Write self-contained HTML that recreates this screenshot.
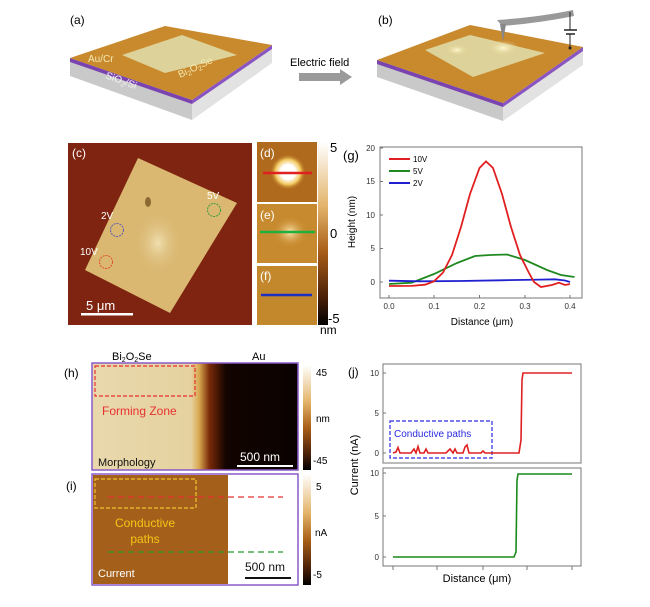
<!DOCTYPE html>
<html><head><meta charset="utf-8"><style>
body{margin:0;background:#fff}
svg text{font-family:"Liberation Sans",sans-serif}
</style></head><body>
<svg width="650" height="602" viewBox="0 0 650 602" xmlns="http://www.w3.org/2000/svg">
<defs>
<radialGradient id="bump" cx="50%" cy="50%" r="50%"><stop offset="0" stop-color="#fff8d0"/><stop offset="1" stop-color="#e2d08e" stop-opacity="0"/></radialGradient>
<radialGradient id="blob" cx="50%" cy="50%" r="50%"><stop offset="0" stop-color="#f0dfb0"/><stop offset="1" stop-color="#d9b872" stop-opacity="0"/></radialGradient>
<radialGradient id="dspot" cx="50%" cy="50%" r="50%"><stop offset="0.4" stop-color="#fff"/><stop offset="0.7" stop-color="#f2c960"/><stop offset="1" stop-color="#b06a18" stop-opacity="0"/></radialGradient>
<radialGradient id="espot" cx="50%" cy="50%" r="50%"><stop offset="0" stop-color="#fbe7b0"/><stop offset="1" stop-color="#c88a2e" stop-opacity="0"/></radialGradient>
<linearGradient id="cb1" x1="0" y1="0" x2="0" y2="1"><stop offset="0" stop-color="#fff"/><stop offset="0.35" stop-color="#e3b46a"/><stop offset="0.6" stop-color="#a85e18"/><stop offset="0.85" stop-color="#4a2008"/><stop offset="1" stop-color="#000"/></linearGradient>
<linearGradient id="hgrad" x1="0" y1="0" x2="1" y2="0"><stop offset="0" stop-color="#e8d8ac"/><stop offset="0.48" stop-color="#e6d2a0"/><stop offset="0.52" stop-color="#d8a850"/><stop offset="0.57" stop-color="#7a2a08"/><stop offset="0.65" stop-color="#120400"/><stop offset="1" stop-color="#0a0200"/></linearGradient>
</defs>

<!-- (a) -->
<text x="70" y="24" font-size="12">(a)</text>
<polygon points="70,58 192,100 192,120 70,76" fill="#c9c9c9"/>
<polygon points="192,100 272,45 272,63 192,120" fill="#e2e2e2"/>
<polygon points="70,58 192,100 192,104 70,62" fill="#7a44b0"/>
<polygon points="192,100 272,45 272,49 192,104" fill="#8a55c0"/>
<polygon points="70,58 165,26 272,45 192,100" fill="#c98a2e"/>
<polygon points="122,55 182,35 237,55 165,73" fill="#ddd29a"/>
<text x="88" y="62" font-size="10" fill="#f3e9b0">Au/Cr</text>
<text x="180" y="78" font-size="10" fill="#f3e9b0" transform="rotate(-25 180 78)">Bi<tspan font-size="7" dy="2">2</tspan><tspan dy="-2">O</tspan><tspan font-size="7" dy="2">2</tspan><tspan dy="-2">Se</tspan></text>
<text x="105" y="78" font-size="10" fill="#f5f5f5" transform="rotate(20 105 78)">SiO<tspan font-size="7" dy="2">2</tspan><tspan dy="-2">/Si</tspan></text>

<!-- arrow -->
<text x="290" y="66" font-size="11">Electric field</text>
<polygon points="299,73 340,73 340,69 352,77 340,85 340,81 299,81" fill="#9a9a9a"/>

<!-- (b) -->
<text x="378" y="24" font-size="12">(b)</text>
<polygon points="377,60 503,103 503,121 377,77" fill="#c9c9c9"/>
<polygon points="503,103 583,47 583,65 503,121" fill="#e2e2e2"/>
<polygon points="377,60 503,103 503,107 377,64" fill="#7a44b0"/>
<polygon points="503,103 583,47 583,51 503,107" fill="#8a55c0"/>
<polygon points="377,60 470,25 583,47 503,103" fill="#c98a2e"/>
<polygon points="425,50 470,35 545,53 473,77" fill="#ddd29a"/>
<ellipse cx="457" cy="50" rx="12" ry="6" fill="url(#bump)"/>
<ellipse cx="503" cy="48" rx="16" ry="8" fill="url(#bump)"/>
<path d="M497,20 Q540,17 573,10 L574,16 Q540,23 502,26 Z" fill="#999"/>
<polygon points="500,24 506,24 503,42" fill="#888"/>
<line x1="570" y1="12" x2="570" y2="30" stroke="#222"/>
<line x1="564" y1="30" x2="577" y2="30" stroke="#222" stroke-width="1.5"/>
<line x1="566" y1="34" x2="575" y2="34" stroke="#222" stroke-width="1.5"/>
<line x1="570" y1="34" x2="570" y2="48" stroke="#222"/>
<circle cx="570" cy="48" r="1.5" fill="#222"/>

<!-- (c) -->
<rect x="68" y="143" width="184" height="182" fill="#7e2410"/>
<polygon points="138,158 237,203 170,313 85,270" fill="#dab872"/>
<ellipse cx="158" cy="243" rx="24" ry="32" fill="url(#blob)"/>
<ellipse cx="148" cy="202" rx="3" ry="5" fill="#8a6a30"/>
<text x="72" y="157" font-size="12" fill="#fff">(c)</text>
<circle cx="214" cy="210" r="6.5" fill="none" stroke="#3a9a3a" stroke-dasharray="2,1"/>
<text x="207" y="199" font-size="10" fill="#fff">5V</text>
<circle cx="117" cy="230" r="6.5" fill="none" stroke="#5a5ab0" stroke-dasharray="2,1"/>
<text x="101" y="219" font-size="10" fill="#fff">2V</text>
<circle cx="106" cy="262" r="6.5" fill="none" stroke="#e0502a" stroke-dasharray="2,1"/>
<text x="80" y="255" font-size="10" fill="#fff">10V</text>
<text x="86" y="310" font-size="13" fill="#fff">5 μm</text>
<rect x="81" y="313" width="52" height="2.5" fill="#fff"/>

<!-- d e f -->
<rect x="257" y="142" width="60" height="60" fill="#b06a1e"/>
<ellipse cx="288" cy="172" rx="18" ry="18" fill="url(#dspot)"/>
<line x1="263" y1="173" x2="312" y2="173" stroke="#e02020" stroke-width="2.5"/>
<text x="260" y="157" font-size="12" fill="#fff">(d)</text>
<rect x="257" y="204" width="60" height="59" fill="#c88a2e"/>
<ellipse cx="290" cy="232" rx="18" ry="16" fill="url(#espot)"/>
<line x1="260" y1="232" x2="315" y2="232" stroke="#20b040" stroke-width="2.5"/>
<text x="260" y="219" font-size="12" fill="#fff">(e)</text>
<rect x="257" y="266" width="60" height="59" fill="#c4882c"/>
<line x1="261" y1="295" x2="312" y2="295" stroke="#2030c0" stroke-width="2.5"/>
<text x="260" y="280" font-size="12" fill="#fff">(f)</text>
<rect x="318" y="142" width="10" height="183" fill="url(#cb1)"/>
<text x="330" y="152" font-size="13">5</text>
<text x="330" y="238" font-size="13">0</text>
<text x="328" y="323" font-size="13">-5</text>
<text x="320" y="334" font-size="12">nm</text>

<!-- (g) -->
<text x="343" y="160" font-size="13">(g)</text>
<rect x="380" y="147" width="202" height="151" fill="none" stroke="#777"/>
<g font-size="8" fill="#333" text-anchor="end">
<text x="375" y="151">20</text><text x="375" y="184">15</text><text x="375" y="218">10</text><text x="375" y="251">5</text><text x="375" y="285">0</text>
</g>
<g stroke="#777"><line x1="380" y1="148" x2="383" y2="148"/><line x1="380" y1="181.5" x2="383" y2="181.5"/><line x1="380" y1="215" x2="383" y2="215"/><line x1="380" y1="248.5" x2="383" y2="248.5"/><line x1="380" y1="282" x2="383" y2="282"/>
<line x1="389" y1="298" x2="389" y2="295"/><line x1="434" y1="298" x2="434" y2="295"/><line x1="479.5" y1="298" x2="479.5" y2="295"/><line x1="525" y1="298" x2="525" y2="295"/><line x1="570" y1="298" x2="570" y2="295"/></g>
<g font-size="8" fill="#333" text-anchor="middle">
<text x="389" y="309">0.0</text><text x="434" y="309">0.1</text><text x="479.5" y="309">0.2</text><text x="525" y="309">0.3</text><text x="570" y="309">0.4</text></g>
<text x="482" y="325" font-size="10" text-anchor="middle">Distance (μm)</text>
<text x="355" y="222" font-size="10" text-anchor="middle" transform="rotate(-90 355 222)">Height (nm)</text>
<line x1="389" y1="159" x2="410" y2="159" stroke="#e02020" stroke-width="2"/><text x="413" y="162" font-size="8">10V</text>
<line x1="389" y1="171" x2="410" y2="171" stroke="#208a20" stroke-width="2"/><text x="413" y="174" font-size="8">5V</text>
<line x1="389" y1="183" x2="410" y2="183" stroke="#2020d0" stroke-width="2"/><text x="413" y="186" font-size="8">2V</text>
<polyline fill="none" stroke="#208a20" stroke-width="1.8" points="389,284 411.6,282.7 434,274 457,263 475,256 490,255 507,254.5 525,260 547,270 561,275 574.5,277"/>
<polyline fill="none" stroke="#2020d0" stroke-width="1.8" points="389,280.7 420,281.3 460,281 500,280.3 540,279.6 555,279.3 565,280.5 570,282"/>
<polyline fill="none" stroke="#e02020" stroke-width="1.8" points="389,286 411.6,285.9 425,284.7 434,281.3 443,272.6 452,255 461,227 470,194 479.5,168 486,161.4 493,168 502,194 511,227 520,255 525,265 529,273 534,282 541,287 552,285 559,282.7 565,285 570,284"/>

<!-- (h) -->
<text x="112" y="360" font-size="11">Bi<tspan font-size="7" dy="2">2</tspan><tspan dy="-2">O</tspan><tspan font-size="7" dy="2">2</tspan><tspan dy="-2">Se</tspan></text>
<text x="252" y="360" font-size="11">Au</text>
<text x="64" y="377" font-size="12">(h)</text>
<rect x="92" y="363" width="206" height="107" fill="url(#hgrad)" stroke="#8a5ac8" stroke-width="1.5"/>
<rect x="95" y="366" width="100" height="30" fill="none" stroke="#e83030" stroke-width="1.2" stroke-dasharray="4,2"/>
<text x="102" y="415" font-size="12" fill="#e83030">Forming Zone</text>
<text x="98" y="466" font-size="11" fill="#111">Morphology</text>
<text x="240" y="461" font-size="12" fill="#fff">500 nm</text>
<rect x="237" y="465" width="56" height="2" fill="#fff"/>
<rect x="303" y="365" width="8" height="105" fill="url(#cb1)"/>
<text x="316" y="376" font-size="10">45</text>
<text x="316" y="422" font-size="10">nm</text>
<text x="313" y="464" font-size="10">-45</text>

<!-- (i) -->
<text x="66" y="490" font-size="12">(i)</text>
<rect x="92" y="474" width="206" height="111" fill="#fff" stroke="#8a5ac8" stroke-width="1.5"/>
<rect x="93" y="475" width="135" height="109" fill="#a4601a"/>
<rect x="95" y="479" width="101" height="29" fill="none" stroke="#f0c030" stroke-width="1.2" stroke-dasharray="4,2"/>
<line x1="108" y1="497" x2="283" y2="497" stroke="#e83030" stroke-width="1.3" stroke-dasharray="6,4"/>
<line x1="108" y1="552" x2="283" y2="552" stroke="#2a9a2a" stroke-width="1.3" stroke-dasharray="6,4"/>
<text x="145" y="527" font-size="12" fill="#f5c518" text-anchor="middle">Conductive</text>
<text x="145" y="543" font-size="12" fill="#f5c518" text-anchor="middle">paths</text>
<text x="98" y="577" font-size="11" fill="#fff">Current</text>
<text x="245" y="571" font-size="12" fill="#111">500 nm</text>
<rect x="245" y="577" width="46" height="2" fill="#111"/>
<rect x="303" y="474" width="8" height="111" fill="url(#cb1)"/>
<text x="316" y="490" font-size="10">5</text>
<text x="315" y="536" font-size="10">nA</text>
<text x="313" y="578" font-size="10">-5</text>

<!-- (j) -->
<text x="348" y="376" font-size="12">(j)</text>
<rect x="383" y="364" width="198" height="99" fill="none" stroke="#777"/>
<rect x="383" y="468" width="198" height="98" fill="none" stroke="#777"/>
<g font-size="8" fill="#333" text-anchor="end">
<text x="379" y="376">10</text><text x="379" y="416">5</text><text x="379" y="456">0</text>
<text x="379" y="476">10</text><text x="379" y="519">5</text><text x="379" y="560">0</text></g>
<g stroke="#777">
<line x1="383" y1="373" x2="386" y2="373"/><line x1="383" y1="413" x2="386" y2="413"/><line x1="383" y1="453" x2="386" y2="453"/>
<line x1="383" y1="473" x2="386" y2="473"/><line x1="383" y1="516" x2="386" y2="516"/><line x1="383" y1="557" x2="386" y2="557"/>
<line x1="393" y1="566" x2="393" y2="570"/><line x1="437" y1="566" x2="437" y2="570"/><line x1="483" y1="566" x2="483" y2="570"/><line x1="527" y1="566" x2="527" y2="570"/><line x1="572" y1="566" x2="572" y2="570"/>
</g>
<text x="477" y="582" font-size="11" text-anchor="middle">Distance (μm)</text>
<text x="358" y="465" font-size="11" text-anchor="middle" transform="rotate(-90 358 465)">Current (nA)</text>
<rect x="390" y="421" width="102" height="37" fill="none" stroke="#2a2ae0" stroke-width="1.2" stroke-dasharray="4,2"/>
<text x="394" y="437" font-size="10" fill="#2a2ae0">Conductive paths</text>
<polyline fill="none" stroke="#e02020" stroke-width="1.6" points="393,453 396,452 398,447.5 400,453 411,453 414,449 416,453 418,446.5 420,453 424,453 426,449 428,453 446,453 450,449 453,453 455,449 457,453 463,453 465,447 467,445 469,453 481,453 483,451 485,453 519,453 521,440 522,380 523,373 572,373"/>
<polyline fill="none" stroke="#1a8a1a" stroke-width="1.6" points="393,557 514,557 516,552 517,480 518,474 572,474"/>
</svg>
</body></html>
